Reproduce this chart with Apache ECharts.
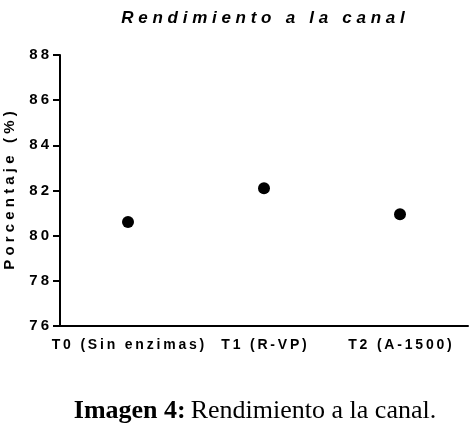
<!DOCTYPE html>
<html>
<head>
<meta charset="utf-8">
<script src="https://cdn.jsdelivr.net/npm/echarts@6/dist/echarts.min.js"></script>
<style>
  html, body { margin: 0; padding: 0; background: #fff; }
  #chart { width: 472px; height: 424px; }
</style>
</head>
<body>
<div id="chart"></div>
<script>
const categories = ['T0 (Sin enzimas)', 'T1 (R-VP)', 'T2 (A-1500)']
const rendimiento = [80.6, 82.1, 80.95]
const yTicks = { min: 76, max: 88, interval: 2 }

// spread letters the way the original graph does
function spaced(s, gap = '\u2009') {
  return s.split('').join(gap)
}

const chart = echarts.init(document.getElementById('chart'))

chart.setOption({
  animation: false,
  title: [
    {
      text: spaced('Rendimiento a la canal', ' '),
      left: 258,
      top: 5,
      textAlign: 'center',
      textStyle: {
        fontFamily: 'Liberation Sans',
        fontSize: 17,
        fontWeight: 'bold',
        fontStyle: 'italic',
        color: '#000'
      }
    },
    {
      text: '{b|Imagen 4:} {n|Rendimiento a la canal.}',
      left: 250,
      top: 393,
      textAlign: 'center',
      textStyle: {
        fontWeight: 'normal',
        rich: {
          b: { fontFamily: 'Liberation Serif', fontSize: 26, fontWeight: 'bold', color: '#000' },
          n: { fontFamily: 'Liberation Serif', fontSize: 26, fontWeight: 'normal', color: '#000' }
        }
      }
    }
  ],
  grid: { left: 60, right: 4, top: 55, bottom: 98, outerBoundsMode: 'none' },
  xAxis: {
    type: 'category',
    data: categories,
    boundaryGap: true,
    axisLine: { lineStyle: { color: '#000', width: 2 } },
    axisTick: { alignWithLabel: true, length: 7, lineStyle: { color: '#000', width: 2 } },
    axisLabel: {
      interval: 0,
      margin: 12,
      color: '#000',
      fontFamily: 'Liberation Sans',
      fontWeight: 'bold',
      fontSize: 14,
      formatter: v => spaced(v)
    }
  },
  yAxis: {
    type: 'value',
    min: yTicks.min,
    max: yTicks.max,
    interval: yTicks.interval,
    name: spaced('Porcentaje (%)', ' '),
    nameLocation: 'middle',
    nameGap: 43,
    nameRotate: 90,
    nameTextStyle: {
      color: '#000',
      fontFamily: 'Liberation Sans',
      fontWeight: 'bold',
      fontSize: 15
    },
    splitLine: { show: false },
    axisLine: { show: true, lineStyle: { color: '#000', width: 2 } },
    axisTick: { show: true, length: 7, lineStyle: { color: '#000', width: 2 } },
    axisLabel: {
      margin: 11,
      color: '#000',
      fontFamily: 'Liberation Sans',
      fontWeight: 'bold',
      fontSize: 15,
      formatter: v => spaced(String(v))
    }
  },
  series: [
    {
      name: 'Rendimiento a la canal',
      type: 'scatter',
      data: rendimiento,
      symbol: 'circle',
      symbolSize: 12,
      itemStyle: { color: '#000', opacity: 1 }
    }
  ]
})
</script>
</body>
</html>
